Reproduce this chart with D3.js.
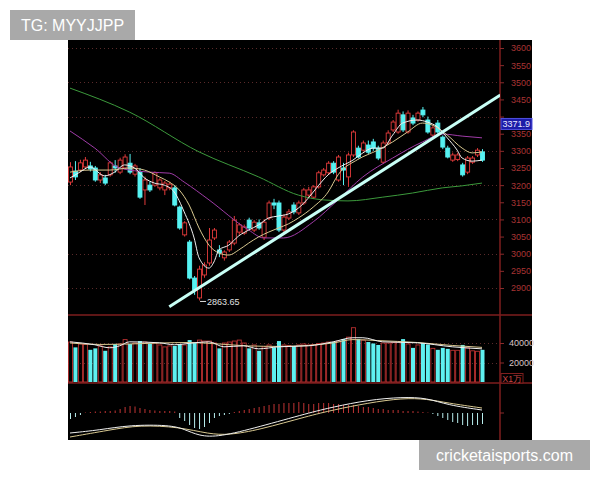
<!DOCTYPE html>
<html><head><meta charset="utf-8">
<script src="https://cdn.jsdelivr.net/npm/d3@7"></script>
<style>body{margin:0;background:#fff;}svg{display:block;}</style>
</head><body>
<svg id="c" width="600" height="480"></svg>
<script>
// ---------- DATA ----------
const opens  = [3209,3241,3244,3253,3256,3250,3215,3221,3230,3256,3238,3250,3264,3232,3238,3186,3200,3200,3192,3186,3192,3192,3136,3055,3034,2929,2871,2938,2973,3046,3011,2988,3011,3031,3063,3060,3098,3069,3090,3048,3104,3148,3148,3069,3104,3142,3119,3148,3171,3165,3195,3230,3236,3264,3215,3250,3224,3288,3308,3302,3317,3326,3308,3267,3323,3361,3355,3405,3355,3396,3390,3419,3390,3346,3381,3340,3308,3273,3275,3259,3238,3267,3288,3297];
const closes = [3253,3224,3265,3273,3247,3215,3230,3206,3265,3250,3273,3282,3238,3256,3165,3215,3186,3236,3215,3206,3203,3142,3075,3090,2929,2894,2955,2967,3040,3069,3002,3005,3034,3098,3084,3078,3075,3092,3075,3092,3148,3142,3069,3107,3122,3122,3148,3186,3186,3195,3236,3244,3264,3238,3282,3244,3288,3355,3282,3323,3296,3308,3279,3323,3352,3384,3410,3361,3410,3381,3410,3405,3355,3367,3355,3311,3282,3288,3288,3230,3279,3279,3302,3273];
const highs  = [3267,3270,3274,3282,3268,3256,3238,3230,3270,3273,3280,3290,3291,3262,3250,3225,3210,3240,3220,3212,3210,3200,3140,3095,3040,2935,2965,2975,3075,3075,3025,3010,3040,3110,3090,3085,3105,3098,3100,3100,3155,3160,3155,3115,3130,3150,3155,3192,3195,3200,3242,3250,3270,3270,3288,3265,3295,3360,3315,3330,3330,3335,3315,3330,3360,3390,3420,3415,3418,3405,3415,3428,3400,3375,3390,3345,3315,3295,3295,3265,3285,3285,3308,3305];
const lows   = [3200,3215,3238,3248,3240,3210,3206,3200,3225,3236,3232,3245,3232,3225,3160,3142,3180,3195,3185,3171,3185,3138,3070,3050,2925,2880,2863.65,2930,2965,3040,2990,2980,3005,3025,3055,3055,3070,3063,3070,3040,3098,3130,3063,3060,3098,3115,3113,3142,3165,3160,3190,3225,3230,3232,3210,3200,3195,3282,3278,3298,3290,3300,3273,3262,3317,3355,3350,3355,3350,3375,3385,3398,3350,3340,3350,3305,3278,3268,3270,3225,3232,3262,3282,3268];
const volumes = [41000,35500,39000,38500,33000,34500,37000,32000,36000,39000,39000,43500,39000,40000,42000,41000,39500,40000,38000,36000,37000,37000,39000,38000,43000,40000,43000,42000,42000,40000,34500,40000,41000,42000,43000,40000,34500,38000,32000,36000,38000,35500,42000,38000,37500,37000,38000,39000,38000,38500,39500,40000,41000,41000,42000,44000,46000,55700,44000,43000,41000,39500,38000,40000,40000,40500,41000,44000,39000,35000,38000,40000,38500,34500,33000,35000,34000,32500,32500,38000,35000,32000,31500,33000];
const macdHist = [-6,-4,-2,0.5,1,1.5,1.5,2,2,2.5,4,6,7,6.5,5,4,3,2.5,2,2,2,1.5,-5,-8,-12,-15,-16,-14,-10,-5,-3,-2,-1,1,2,3,4,5,6,7,8,9,9,10,10,10,11,10,9,9,10,10,10,9,9,8,8,8,7,6,6,5,4,4,3,3,3,2,2,2,1.5,1,0.5,-1,-3,-5,-7,-9,-10,-12,-13,-12,-12,-11];
// moving averages as [candle index, value] knots
const ma5  = [[0,3221],[2,3238],[4,3253],[7,3227],[9,3238],[11,3259],[13,3250],[15,3221],[17,3206],[19,3200],[21,3180],[23,3122],[25,3046],[26,2988],[28,2958],[29,2976],[30,3011],[32,3025],[34,3052],[36,3069],[38,3084],[40,3104],[42,3110],[44,3116],[46,3133],[48,3162],[50,3198],[52,3230],[54,3250],[57,3273],[59,3294],[61,3308],[63,3308],[65,3346],[67,3381],[70,3390],[72,3384],[74,3370],[76,3338],[78,3302],[79,3279],[81,3270],[83,3273]];
const ma10 = [[0,3238],[4,3244],[8,3244],[12,3250],[15,3244],[18,3224],[20,3209],[22,3186],[24,3142],[26,3075],[28,3025],[30,3002],[32,2996],[34,3011],[36,3031],[38,3049],[40,3063],[42,3075],[44,3087],[46,3104],[49,3136],[52,3180],[54,3230],[58,3275],[62,3302],[65,3326],[68,3355],[71,3381],[73,3375],[76,3346],[79,3308],[81,3294],[83,3297]];
const ma20 = [[0,3358],[5,3308],[10,3250],[16,3238],[20,3235],[23,3209],[28,3157],[36,3069],[39,3046],[43,3046],[49,3093],[54,3157],[59,3224],[65,3279],[71,3326],[75,3349],[79,3343],[83,3338]];
const ma60 = [[0,3483],[12,3413],[26,3297],[38,3224],[46,3171],[51,3157],[56,3154],[63,3165],[69,3177],[75,3192],[79,3198],[83,3206]];
const volMa5  = [[0,41200],[5,38200],[8,35100],[10,37100],[12,41200],[18,40200],[21,38200],[25,40200],[28,41200],[31,36100],[35,37100],[38,34000],[42,36100],[48,37100],[53,41200],[57,45400],[59,45400],[63,41200],[70,40200],[77,36100],[83,34000]];
const volMa10 = [[0,40000],[6,38500],[12,39000],[18,40000],[24,40500],[30,39000],[36,37000],[42,36500],[48,37500],[53,40000],[57,43500],[62,42500],[70,40500],[77,37500],[83,35500]];
const dif = [[0,-20],[6,-17],[12,-12],[20,-12],[23,-16],[26,-23],[30,-24],[38,-14],[48,0],[53,6],[60,13],[67,16],[72,15],[76,8],[83,3]];
const dea = [[0,-24],[8,-17],[14,-12],[22,-14],[28,-21],[32,-22],[38,-17],[48,-3],[53,3],[60,10],[67,15],[72,14],[76,10],[83,5]];
const trendLine = [[20,2845],[86.7,3463]];
const lowMark = {index:26, value:2863.65, label:"2863.65"};
const lastPrice = {value:3377, label:"3371.9"};
const priceTicks = [3600,3550,3500,3450,3400,3350,3300,3250,3200,3150,3100,3050,3000,2950,2900];
const hiddenTickLabels = [3400]; // covered by the last-price box in the reference
const gridTicks = [3600,3500,3400,3300,3200,3100,3000,2900];
const volumeTicks = [40000,20000];
const volumeUnit = "X1万";
const watermarkTop = "TG: MYYJJPP";
const watermarkBottom = "cricketaisports.com";

// ---------- LAYOUT ----------
const svg = d3.select("#c");
const L = 68, R = 532, T = 40, B = 440, AX = 500;
const mainB = 315, volB = 383;
const RED = "#e23b3b", CYAN = "#56f2f2", DARKRED = "#7e1e1e";
const font = "'Liberation Sans Narrow','Liberation Sans',Arial,sans-serif";

const x = d3.scaleLinear().domain([0, 83]).range([70, 482]);
const y = d3.scaleLinear().domain([2900, 3600]).range([288, 48]);
const yv = d3.scaleLinear().domain([0, 40000]).range([382, 343]);
const ym = d3.scaleLinear().domain([-30, 30]).range([443, 383]);

svg.append("rect").attr("x", L).attr("y", T).attr("width", R - L).attr("height", B - T).attr("fill", "#000");

const defs = svg.append("defs");
defs.append("clipPath").attr("id", "cm").append("rect").attr("x", L).attr("y", T).attr("width", AX - L).attr("height", mainB - T);
defs.append("clipPath").attr("id", "cv").append("rect").attr("x", L).attr("y", mainB + 1).attr("width", AX - L).attr("height", volB - mainB - 1);
defs.append("clipPath").attr("id", "cd").append("rect").attr("x", L).attr("y", volB + 1).attr("width", AX - L).attr("height", B - volB - 1);

// grid
svg.append("g").selectAll("line").data(gridTicks).join("line")
  .attr("x1", L).attr("x2", AX).attr("y1", d => Math.round(y(d)) + 0.5).attr("y2", d => Math.round(y(d)) + 0.5)
  .attr("stroke", "#5a2a2a").attr("stroke-dasharray", "1,3");
svg.append("g").selectAll("line").data(volumeTicks).join("line")
  .attr("x1", L).attr("x2", AX).attr("y1", d => Math.round(yv(d)) + 0.5).attr("y2", d => Math.round(yv(d)) + 0.5)
  .attr("stroke", "#5a2a2a").attr("stroke-dasharray", "1,3");

// separators
svg.append("line").attr("x1", L).attr("x2", R).attr("y1", mainB).attr("y2", mainB).attr("stroke", DARKRED).attr("stroke-width", 1.5);
svg.append("line").attr("x1", L).attr("x2", R).attr("y1", volB).attr("y2", volB).attr("stroke", DARKRED).attr("stroke-width", 1.5);
svg.append("line").attr("x1", AX).attr("x2", AX).attr("y1", T).attr("y2", B).attr("stroke", DARKRED).attr("stroke-width", 1.5);

// price axis
const ax = d3.axisRight(y).tickValues(priceTicks).tickSize(4)
  .tickFormat(d => hiddenTickLabels.includes(d) ? "" : d3.format("d")(d));
const axg = svg.append("g").attr("transform", `translate(${AX},0)`).call(ax);
axg.select(".domain").remove();
axg.selectAll("line").attr("stroke", "#8a2a2a");
axg.selectAll("text").attr("x", 11).attr("fill", "#a83434").attr("font-size", 9).attr("font-family", font);

// volume axis
const vax = d3.axisRight(yv).tickValues(volumeTicks).tickSize(4).tickFormat(d3.format("d"));
const vg = svg.append("g").attr("transform", `translate(${AX},0)`).call(vax);
vg.select(".domain").remove();
vg.selectAll("line").attr("stroke", "#8a2a2a");
vg.selectAll("text").attr("x", 9).attr("fill", "#d8c4c4").attr("font-size", 9).attr("font-family", font);
svg.append("rect").attr("x", AX + 1).attr("y", 373.5).attr("width", 22).attr("height", 9.5).attr("fill", "#000").attr("stroke", DARKRED);
svg.append("text").attr("x", AX + 2.5).attr("y", 381.5).attr("fill", "#c84444").attr("font-size", 8.5).attr("font-family", font).text(volumeUnit);
svg.append("line").attr("x1", AX).attr("x2", AX + 4).attr("y1", ym(0)).attr("y2", ym(0)).attr("stroke", "#8a2a2a");

// candles
const idx = d3.range(opens.length);
const cg = svg.append("g").attr("clip-path", "url(#cm)");
const up = i => closes[i] >= opens[i];
cg.selectAll("line.w").data(idx).join("line").attr("class", "w")
  .attr("x1", i => x(i) + 0.5).attr("x2", i => x(i) + 0.5).attr("y1", i => y(highs[i])).attr("y2", i => y(lows[i]))
  .attr("stroke", i => up(i) ? RED : CYAN).attr("stroke-width", 1);
cg.selectAll("rect").data(idx).join("rect")
  .attr("x", i => x(i) - 1.5).attr("width", 4)
  .attr("y", i => y(Math.max(opens[i], closes[i])))
  .attr("height", i => Math.max(1, Math.abs(y(opens[i]) - y(closes[i]))))
  .attr("fill", i => up(i) ? "#000" : CYAN)
  .attr("stroke", i => up(i) ? RED : CYAN).attr("stroke-width", 0.9);

// MA lines
const line = d3.line().x(d => x(d[0])).y(d => y(d[1])).curve(d3.curveMonotoneX);
const maSeries = [[ma60, "#3c9a3c"], [ma20, "#a03ca8"], [ma10, "#d8c890"], [ma5, "#f0f0f0"]];
maSeries.forEach(([d, c]) => cg.append("path").datum(d).attr("d", line).attr("fill", "none").attr("stroke", c).attr("stroke-width", 1));

// trend line
const tl = d3.line().x(d => x(d[0])).y(d => y(d[1]));
cg.append("path").datum(trendLine).attr("d", tl).attr("stroke", "#c8fff6").attr("stroke-width", 3).attr("fill", "none");

// low marker
const lx = x(lowMark.index), ly = y(lowMark.value);
svg.append("line").attr("x1", lx + 1).attr("x2", lx + 7).attr("y1", ly + 1).attr("y2", ly + 1).attr("stroke", "#ddd");
svg.append("text").attr("x", lx + 8).attr("y", ly + 4.5).attr("fill", "#e0e0e0").attr("font-size", 9).attr("font-family", font).text(lowMark.label);

// last price box
const lpY = y(lastPrice.value);
svg.append("rect").attr("x", AX + 1).attr("y", lpY - 6).attr("width", 31).attr("height", 11).attr("fill", "#1c1ca8").attr("stroke", "#5050e0");
svg.append("text").attr("x", AX + 2.5).attr("y", lpY + 3).attr("fill", "#e8e8ff").attr("font-size", 9).attr("font-family", font).text(lastPrice.label);

// volume
const vgp = svg.append("g").attr("clip-path", "url(#cv)");
vgp.selectAll("rect").data(idx).join("rect")
  .attr("x", i => x(i) - 1.5).attr("width", 4)
  .attr("y", i => yv(volumes[i])).attr("height", i => yv(0) - yv(volumes[i]))
  .attr("fill", i => up(i) ? "none" : "#5ef0f0")
  .attr("stroke", i => up(i) ? "#b83030" : "none").attr("stroke-width", 0.9);
const vline = d3.line().x(d => x(d[0])).y(d => yv(d[1])).curve(d3.curveMonotoneX);
vgp.append("path").datum(volMa10).attr("d", vline).attr("fill", "none").attr("stroke", "#d8c890").attr("stroke-width", 1);
vgp.append("path").datum(volMa5).attr("d", vline).attr("fill", "none").attr("stroke", "#f0f0f0").attr("stroke-width", 1);

// MACD
const mg = svg.append("g").attr("clip-path", "url(#cd)");
mg.selectAll("line").data(idx).join("line")
  .attr("x1", i => x(i) + 0.5).attr("x2", i => x(i) + 0.5)
  .attr("y1", ym(0)).attr("y2", i => ym(macdHist[i]))
  .attr("stroke", i => macdHist[i] >= 0 ? "#c03434" : "#b8eeee").attr("stroke-width", 1);
const mline = d3.line().x(d => x(d[0])).y(d => ym(d[1])).curve(d3.curveBasis);
mg.append("path").datum(dea).attr("d", mline).attr("fill", "none").attr("stroke", "#d8c890").attr("stroke-width", 1);
mg.append("path").datum(dif).attr("d", mline).attr("fill", "none").attr("stroke", "#f0f0f0").attr("stroke-width", 1);

// watermarks
const wmFont = "'Liberation Sans',Arial,sans-serif";
svg.append("rect").attr("x", 10).attr("y", 10).attr("width", 125).attr("height", 30).attr("fill", "#a9a9a9");
svg.append("text").attr("x", 72.5).attr("y", 31).attr("text-anchor", "middle").attr("fill", "#fff").attr("font-size", 16).attr("font-family", wmFont).text(watermarkTop);
svg.append("rect").attr("x", 419).attr("y", 440).attr("width", 171).attr("height", 30).attr("fill", "#a9a9a9");
svg.append("text").attr("x", 504.5).attr("y", 461).attr("text-anchor", "middle").attr("fill", "#fff").attr("font-size", 16).attr("font-family", wmFont).text(watermarkBottom);
</script>
</body></html>
